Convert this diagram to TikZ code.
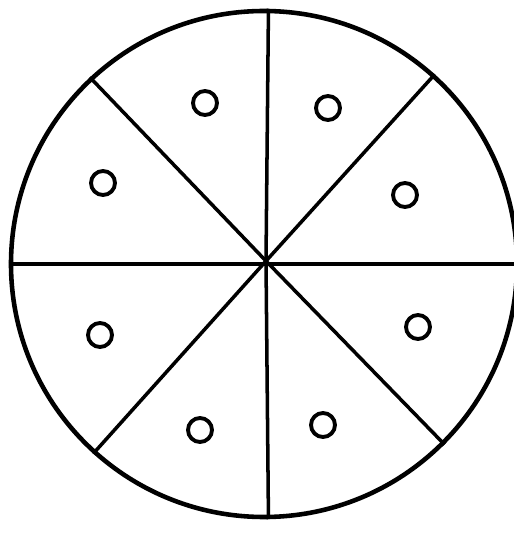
\documentclass[tikz,border=0pt]{standalone}
\usepackage{tikz}

\begin{document}
\begin{tikzpicture}[
        hole/.style = {circle, draw, line width = 1.1pt, inner sep = 0pt, minimum size = 0.24cm},
        cut/.style = {line width = 1pt}
    ]
        \useasboundingbox (0, 0) rectangle (5.14, 5.34);
        \node[circle, draw, line width = 1.3pt, inner sep = 0pt, minimum size = 5.06cm] (plate) at (2.64, 2.70) {};
        \coordinate (mid) at (2.66, 2.73);
        \draw[cut] (plate.180) -- (plate.0);
        \draw[cut] (plate.89) -- (mid) -- (plate.271);
        \draw[cut] (plate.133) -- (mid) -- (plate.-45);
        \draw[cut] (plate.48) -- (mid) -- (plate.228);
        \node[hole] (h1) at (2.05, 4.31) {};
        \node[hole] (h2) at (3.28, 4.26) {};
        \node[hole] (h3) at (1.03, 3.51) {};
        \node[hole] (h4) at (4.05, 3.39) {};
        \node[hole] (h5) at (1.00, 1.99) {};
        \node[hole] (h6) at (4.18, 2.07) {};
        \node[hole] (h7) at (2.00, 1.04) {};
        \node[hole] (h8) at (3.23, 1.09) {};
    \end{tikzpicture}
\end{document}
